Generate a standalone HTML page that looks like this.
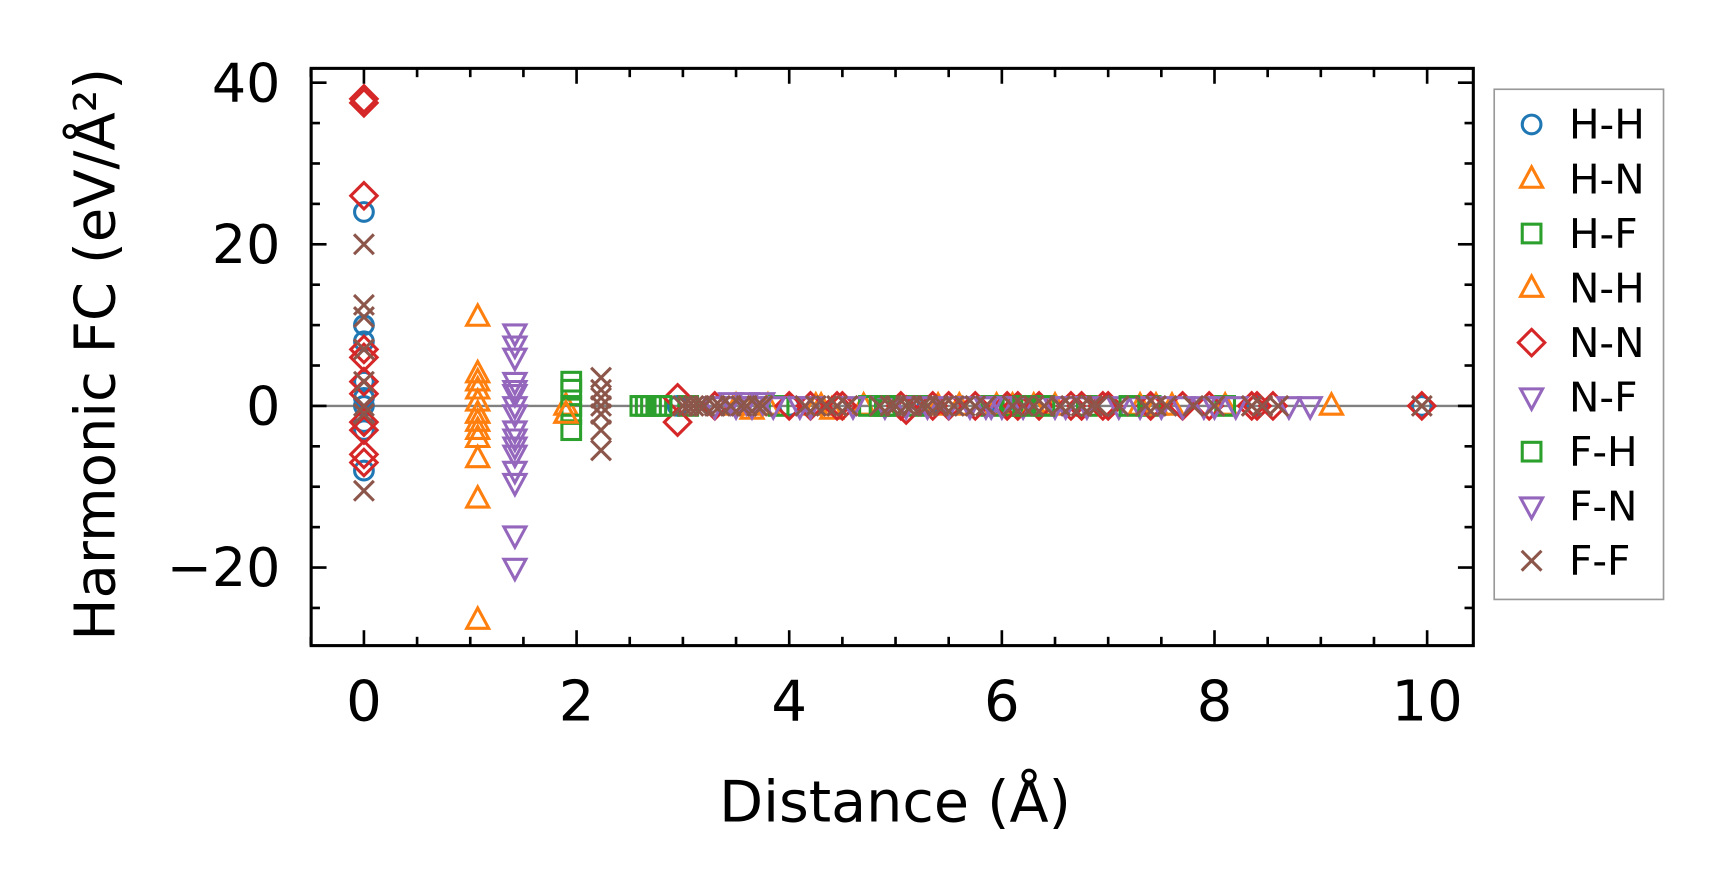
<!DOCTYPE html>
<html><head><meta charset="utf-8"><style>
html,body{margin:0;padding:0;background:#fff;}
svg{display:block;font-family:"DejaVu Sans","Liberation Sans",sans-serif;}
</style></head><body>
<svg id="chart" width="1724" height="891" viewBox="0 0 1568 810" xmlns="http://www.w3.org/2000/svg">
<g id="marks"></g>
<g id="axes"></g>
<text transform="translate(104,322) rotate(-90)" text-anchor="middle" font-size="51">Harmonic FC (eV/Å²)</text>
<text x="814" y="747" text-anchor="middle" font-size="52">Distance (Å)</text>
<g id="legend"></g>
</svg>
<script>
const seriesNames = ["H-H","H-N","H-F","N-H","N-N","N-F","F-H","F-N","F-F"];
const seriesColors = ["#1f77b4","#ff7f0e","#2ca02c","#ff7f0e","#d62728","#9467bd","#2ca02c","#9467bd","#8c564b"];
const seriesMarkers = ["o","^","s","^","D","v","s","v","x"];
const xTicks = [0,2,4,6,8,10];
const yTicks = [-20,0,20,40];
const hhX = [0,0,0,0,0,0,0,0,0,2.95,4.0,5.3,6.0,7.0,8.4,9.95];
const hhY = [24,10,8,3,1,0,-2,-3,-8,0,0,0,0,0,0,0];
const hnX = [1.07,1.07,1.07,1.07,1.07,1.07,1.07,1.07,1.07,1.07,1.07,1.9,1.9,3.8,4.25,4.7,5.4,6.1,6.5,7.6,8.1,9.1,3.65,4.4,5.95,7.45];
const hnY = [11,4,3,0.5,-1,-2,-3,-4,-6.5,-11.5,-26.5,0,-1,0,0,0,0,0,0,0,0,0,-0.5,-0.5,0,0];
const hfX = [1.95,1.95,1.95,1.95,1.95,2.6,2.7,2.75,4.75,4.85,5.2,5.9,6.1,6.8,7.4,8.1,3.05,3.9,4.95];
const hfY = [3,2,0,-1,-3,0,0,0,0,0,0,0,0,0,0,0,0,0,0];
const nhX = [1.07,1.07,1.9,3.5,4.3,5.6,6.3,7.3];
const nhY = [2,-1,-1,0,0,0,0,0];
const nnX = [0,0,0,0,0,0,0,0,0,0,0,2.95,2.95,4.0,4.45,4.5,5.05,5.35,5.75,6.05,6.35,6.65,6.95,7.4,7.95,8.4,8.55,9.95,3.3,4.2,5.1,5.5,6.15,6.75,7.0,7.7,8.35];
const nnY = [38,37.5,26,7,6,3,1.5,-2,-3,-6,-7,1,-2,0,0,0,0,0,0,0,0,0,0,0,0,0,0,0,0,0,-0.5,0,0,0,0,0,0];
const nfX = [1.42,1.42,1.42,1.42,1.42,1.42,1.42,1.42,1.42,1.42,1.42,1.42,1.42,1.42,3.45,3.5,3.6,3.65,3.75,3.85,4.1,4.6,4.9,5.1,5.3,5.5,5.7,6.0,6.2,6.5,6.8,7.1,7.3,7.5,7.7,8.0,8.2,8.7,8.9];
const nfY = [9,7.5,6,3,1.5,0,-1,-3,-5,-6,-8,-9.5,-16,-20,0.5,0,0.5,0,0.5,0,0,0,0,0,0,0,0,0,0,0,0,0,0,0,0,0,0,0,0];
const fhX = [2.65,2.8,4.9,6.2,6.4,7.2];
const fhY = [0,0,0,0,0,0];
const fnX = [1.42,1.42,3.3,4.2,5.9,7.9,5.85,6.6];
const fnY = [2,-4,0,0,0,0,0,0];
const ffX = [0,0,0,0,0,0,0,0,2.23,2.23,2.23,2.23,2.23,2.23,2.23,3.0,3.05,3.1,3.15,3.2,3.3,3.35,3.45,3.55,3.6,3.7,3.75,4.15,4.25,4.35,4.45,4.55,4.85,4.95,5.0,5.1,5.15,5.25,5.3,5.4,5.45,5.55,5.65,5.75,5.85,6.1,6.2,6.3,6.4,6.55,6.65,6.75,6.85,6.9,7.1,7.35,7.45,7.55,7.8,8.0,8.35,8.45,8.6,9.95];
const ffY = [20,12.5,11,7,3,0,-1,-10.5,3.5,2,1,0,-1,-3,-5.5,0,0,0,0,0,0,0,0,0,0,0,0,0,0,0,0,0,0,0,0,0,0,0,0,0,0,0,0,0,0,0,0,0,0,0,0,0,0,0,0,0,0,0,0,0,0,0,0,0];
const allX = [hhX,hnX,hfX,nhX,nnX,nfX,fhX,fnX,ffX];
const allY = [hhY,hnY,hfY,nhY,nnY,nfY,fhY,fnY,ffY];

const L=283,R=1340,T=62,B=587;
const xs = v => 331 + v*96.7;
const ys = v => 369 - v*7.35;
const NS="http://www.w3.org/2000/svg";
function mk(tag, attrs, parent){const e=document.createElementNS(NS,tag);for(const k in attrs)e.setAttribute(k,attrs[k]);parent.appendChild(e);return e;}
function marker(type,x,y,c,parent){
  const st={fill:"none",stroke:c,"stroke-width":2.8};
  let e;
  if(type==="o") e=mk("circle",Object.assign({cx:x,cy:y,r:8.5},st),parent);
  else if(type==="^") e=mk("polygon",Object.assign({points:`${x},${y-11} ${x-10},${y+7.5} ${x+10},${y+7.5}`},st),parent);
  else if(type==="v") e=mk("polygon",Object.assign({points:`${x},${y+11} ${x-10},${y-7.5} ${x+10},${y-7.5}`},st),parent);
  else if(type==="s") e=mk("rect",Object.assign({x:x-8.5,y:y-8.5,width:17,height:17},st),parent);
  else if(type==="D") e=mk("polygon",Object.assign({points:`${x},${y-12} ${x+12},${y} ${x},${y+12} ${x-12},${y}`},st),parent);
  else { e=mk("path",Object.assign({d:`M${x-9},${y-9}L${x+9},${y+9}M${x-9},${y+9}L${x+9},${y-9}`},st),parent); }
  return e;
}
const marks=document.getElementById("marks");
const zl=mk("line",{x1:L,x2:R,y1:ys(0),y2:ys(0),stroke:"#808080","stroke-width":2.2},marks);


allX.forEach((xsArr,si)=>{
  const g=mk("g",{},marks);
  
  
  xsArr.forEach((xv,i)=>{
    const m=marker(seriesMarkers[si],xs(xv),ys(allY[si][i]),seriesColors[si],g);
    
    
  });
});
const axes=document.getElementById("axes");
const fr=mk("rect",{x:L,y:T,width:R-L,height:B-T,fill:"none",stroke:"#000","stroke-width":2.8},axes);


for(let v=-0.5;v<=10.4;v+=0.5){
  const x=xs(v), maj=Math.abs(v%2)<1e-6, len=maj?14:8;
  mk("line",{x1:x,x2:x,y1:B,y2:B-len,stroke:"#000","stroke-width":2.4},axes);
  mk("line",{x1:x,x2:x,y1:T,y2:T+len,stroke:"#000","stroke-width":2.4},axes);
}
for(let v=-25;v<=40;v+=5){
  const y=ys(v), maj=Math.abs(v%20)<1e-6, len=maj?14:8;
  mk("line",{x1:L,x2:L+len,y1:y,y2:y,stroke:"#000","stroke-width":2.4},axes);
  mk("line",{x1:R,x2:R-len,y1:y,y2:y,stroke:"#000","stroke-width":2.4},axes);
}
xTicks.forEach(v=>{
  const t=mk("text",{x:xs(v),y:655,"text-anchor":"middle","font-size":51},axes);
  t.textContent=v;
  
  
});
yTicks.forEach(v=>{
  const t=mk("text",{x:255,y:ys(v)+17,"text-anchor":"end","font-size":49},axes);
  t.textContent=v<0?"\u2212"+(-v):v;
  
  
});
const lg=document.getElementById("legend");
const box=mk("rect",{x:1359,y:81,width:154,height:464,fill:"#fff",stroke:"#999","stroke-width":1.5},lg);


seriesNames.forEach((n,i)=>{
  const y=113+i*49.6;
  const g=mk("g",{},lg);
  
  
  marker(seriesMarkers[i],1393,y,seriesColors[i],g);
  const t=mk("text",{x:1427,y:y+13,"font-size":37},g);
  t.textContent=n;
});
</script>
</body></html>
